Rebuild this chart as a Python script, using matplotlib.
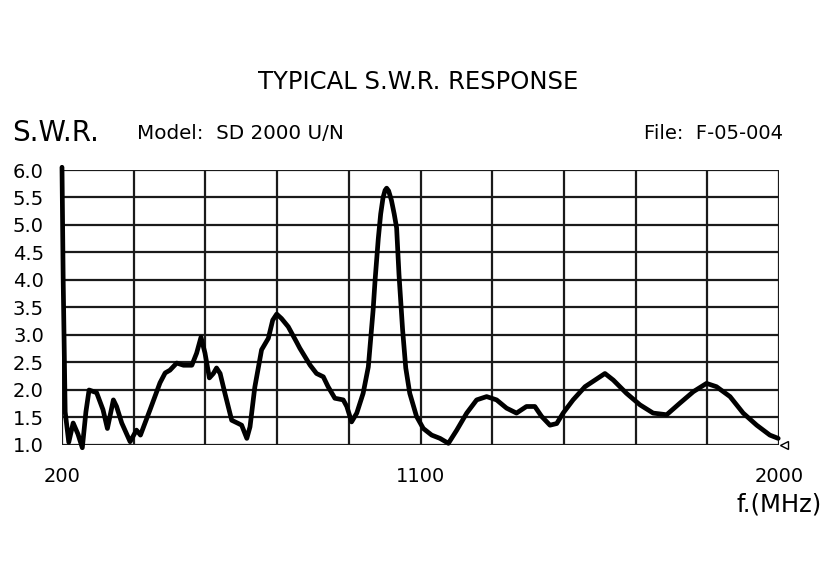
#!/usr/bin/env python3
"""
Typical S.W.R. response chart (SD 2000 U/N)
"""

import matplotlib.pyplot as plt
import numpy as np

# frequency (MHz) and S.W.R.
freq = [200, 203, 208, 217, 228, 240, 251, 260, 268, 287, 303, 314, 329, 337,
        350, 371, 387, 397, 421, 446, 459, 471, 488, 505, 526, 538, 549, 559,
        570, 580, 588, 597, 609, 626, 643, 651, 664, 672, 684, 701, 718, 729,
        739, 751, 768, 789, 797, 823, 839, 856, 868, 885, 906, 915, 927, 940,
        956, 969, 981, 986, 994, 1000, 1006, 1011, 1015, 1020, 1027, 1034, 1040,
        1046, 1055, 1063, 1073, 1090,
        1107, 1128, 1149, 1170, 1191, 1216, 1241, 1266, 1291, 1316, 1341, 1366,
        1387, 1404, 1425, 1442, 1458, 1483, 1513, 1538, 1563, 1584, 1617, 1651,
        1684, 1718, 1751, 1785, 1818, 1843, 1877, 1910, 1944, 1977, 1998]
swr = [6.05, 4.0, 1.6, 1.05, 1.4, 1.2, 0.95, 1.6, 2.0, 1.95, 1.64, 1.3, 1.82, 1.7,
       1.4, 1.06, 1.27, 1.18, 1.64, 2.13, 2.31, 2.36, 2.49, 2.45, 2.45, 2.67, 2.96, 2.67,
       2.22, 2.3, 2.4, 2.3, 1.94, 1.45, 1.39, 1.36, 1.12, 1.33, 2.05, 2.73, 2.94, 3.27,
       3.38, 3.3, 3.15, 2.87, 2.76, 2.45, 2.3, 2.24, 2.06, 1.85, 1.82, 1.7, 1.42, 1.58,
       1.94, 2.42, 3.45, 4.0, 4.75, 5.2, 5.5, 5.63, 5.67, 5.62, 5.45, 5.2, 4.95,
       4.1, 3.1, 2.4, 1.94, 1.52,
       1.3, 1.18, 1.12, 1.03, 1.27, 1.58, 1.82, 1.88, 1.82, 1.67, 1.58, 1.7,
       1.7, 1.52, 1.36, 1.39, 1.58, 1.82, 2.06, 2.18, 2.3, 2.18, 1.94, 1.73,
       1.58, 1.55, 1.76, 1.97, 2.12, 2.06, 1.88, 1.58, 1.36, 1.18, 1.12]

x_labels = [200, 1100, 2000]
y_ticks = [1.0, 1.5, 2.0, 2.5, 3.0, 3.5, 4.0, 4.5, 5.0, 5.5, 6.0]

plt.rcParams['font.family'] = ['DejaVu Sans']

fig = plt.figure(figsize=(8.4, 5.81), dpi=100)
ax = fig.add_axes([0.0738, 0.2341, 0.8536, 0.4733])

# grid: 10 columns of 180 MHz, rows of 0.5
for xv in np.arange(200, 2001, 180):
    ax.axvline(xv, color='#1a1a1a', lw=1.6, zorder=1)
for yv in y_ticks:
    ax.axhline(yv, color='#1a1a1a', lw=1.6, zorder=1)

ax.plot(freq, swr, color='black', lw=3.4, solid_joinstyle='round',
        solid_capstyle='round', zorder=3, clip_on=False)
ax.plot([2012], [1.0], marker='<', ms=6, mfc='white', mec='black', mew=1,
        clip_on=False, zorder=4)

ax.set_xlim(200, 2000)
ax.set_ylim(1.0, 6.0)
ax.set_xticks(x_labels)
ax.set_xticklabels([str(v) for v in x_labels])
ax.set_yticks(y_ticks)
ax.set_yticklabels([f"{v:.1f}" for v in y_ticks])
ax.tick_params(length=0, labelsize=14, color='#222222')
ax.tick_params(axis='y', pad=13)
ax.tick_params(axis='x', pad=16)
for s in ax.spines.values():
    s.set_visible(False)

fig.text(0.498, 0.859, 'TYPICAL S.W.R. RESPONSE', ha='center', va='center',
         fontsize=17.5)
fig.text(0.014, 0.771, 'S.W.R.', ha='left', va='center', fontsize=20)
fig.text(0.163, 0.771, 'Model:  SD 2000 U/N', ha='left', va='center', fontsize=14.3)
fig.text(0.932, 0.771, 'File:  F-05-004', ha='right', va='center', fontsize=14)
fig.text(0.928, 0.131, 'f.(MHz)', ha='center', va='center', fontsize=17.5)

fig.savefig('out.png', dpi=100)
